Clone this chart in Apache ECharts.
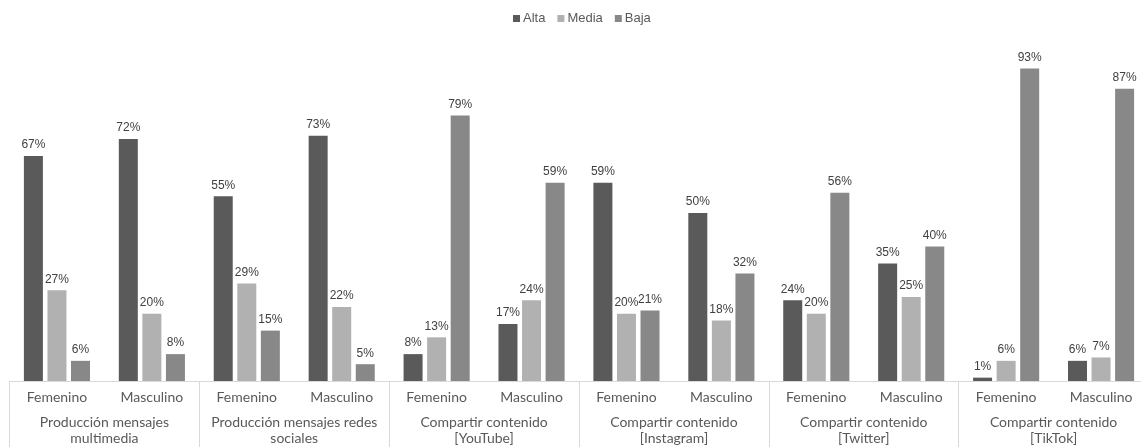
<!DOCTYPE html>
<html>
<head>
<meta charset="utf-8">
<script src="https://cdn.jsdelivr.net/npm/echarts@6/dist/echarts.min.js"></script>
<style>html,body{margin:0;padding:0;background:#fff}#c{width:1141px;height:447px}</style>
</head>
<body>
<div id="c"></div>
<script>
const groups = ['Producción mensajes\nmultimedia','Producción mensajes redes\nsociales','Compartir contenido\n[YouTube]','Compartir contenido\n[Instagram]','Compartir contenido\n[Twitter]','Compartir contenido\n[TikTok]'];
const genders = ['Femenino','Masculino'];
const seriesNames = ['Alta','Media','Baja'];
const alta  = [67,72,55,73,8,17,59,50,24,35,1,6];
const media = [27,20,29,22,13,24,20,18,20,25,6,7];
const baja  = [6,8,15,5,79,59,21,32,56,40,93,87];
const colors = ['#5a5a5a','#b1b1b1','#888888'];

const cats = [];
groups.forEach(()=>genders.forEach(g=>cats.push(g)));
const values = [alta, media, baja];

const chart = echarts.init(document.getElementById('c'));
chart.setOption({
  animation:false,
  legend:{top:7,left:508,itemWidth:7,itemHeight:7,itemGap:12,icon:'rect',
    textStyle:{fontFamily:'Liberation Sans, Arial',fontSize:13,color:'#595959',padding:[0,0,0,-2]}},
  grid:{left:9.5,width:1139,top:45,bottom:66,outerBoundsMode:'none',containLabel:false},
  xAxis:[
    {type:'category',data:cats,axisTick:{show:false},
     axisLine:{lineStyle:{color:'#d9d9d9'}},
     axisLabel:{interval:0,margin:9,fontFamily:'Lato, Noto Sans',fontSize:14,color:'#595959'}},
    {type:'category',data:groups,position:'bottom',
     axisLine:{show:false},
     axisTick:{show:true,length:66,lineStyle:{color:'#d9d9d9'}},
     axisLabel:{interval:0,margin:34,fontFamily:'Lato, Noto Sans',fontSize:14,color:'#595959',lineHeight:15.5,verticalAlign:'top'}}
  ],
  yAxis:{type:'value',min:0,max:100,show:false},
  series: seriesNames.map((n,i)=>({
    name:n,type:'bar',xAxisIndex:0,data:values[i],barWidth:19,barGap:'24%',
    itemStyle:{color:colors[i]},
    label:{show:true,position:'top',distance:5,formatter:'{c}%',
      fontFamily:'Liberation Sans, Arial',fontSize:12,color:'#404040'}
  }))
});
</script>
</body>
</html>
